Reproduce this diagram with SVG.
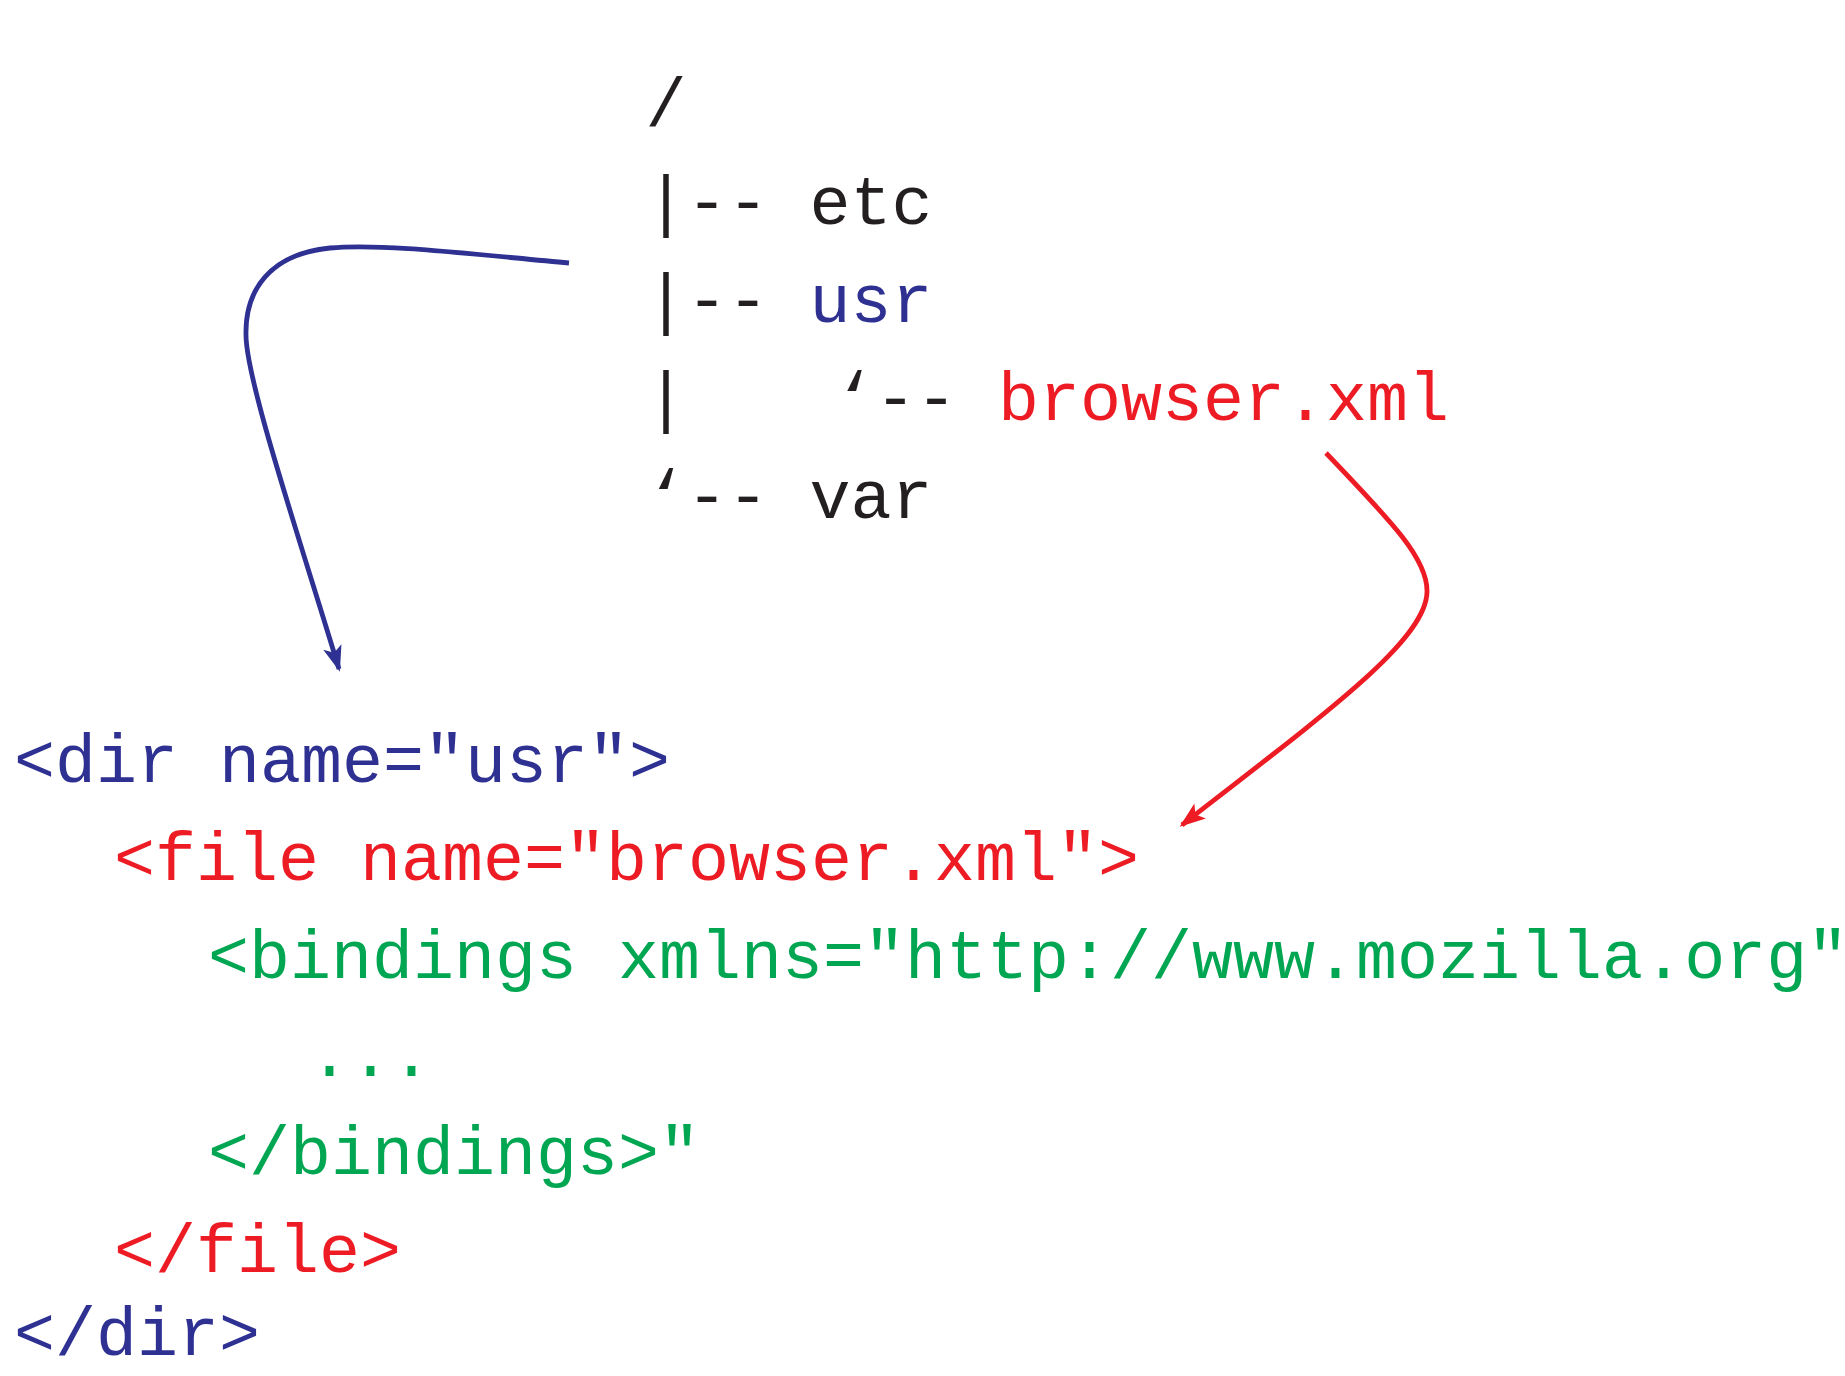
<svg xmlns="http://www.w3.org/2000/svg" width="1845" height="1376" viewBox="0 0 1845 1376">
<style>
text{font-family:"Liberation Mono","DejaVu Sans Mono",monospace;font-size:68.33px;fill:#231f20}
.blue{fill:#2e3192}
.red{fill:#ed1c24}
.green{fill:#00a651}
.conn{fill:none;stroke-width:4.8;stroke-linecap:butt}
</style>
<defs>
<marker id="ahBlue" markerUnits="userSpaceOnUse" markerWidth="32" markerHeight="26" refX="0" refY="0" viewBox="-26 -13 32 26" orient="auto" overflow="visible">
<path d="M3,0 L-23,-9.5 L-17,0 L-23,9.5 Z" fill="#2e3192"/>
</marker>
<marker id="ahRed" markerUnits="userSpaceOnUse" markerWidth="32" markerHeight="26" refX="0" refY="0" viewBox="-26 -13 32 26" orient="auto" overflow="visible">
<path d="M3,0 L-23,-9.5 L-17,0 L-23,9.5 Z" fill="#ed1c24"/>
</marker>
</defs>
<rect width="1845" height="1376" fill="#ffffff"/>
<g id="tree">
<text x="645.5" y="126">/</text>
<text x="645.5" y="224">|-- etc</text>
<text x="645.5" y="322">|-- <tspan class="blue">usr</tspan></text>
<text y="420"><tspan x="645.5">|</tspan><tspan x="834">‘--</tspan><tspan x="998" class="red">browser.xml</tspan></text>
<text x="645.5" y="518">‘-- var</text>
</g>
<g id="xml">
<text id="dir-open" x="14" y="782" class="blue">&lt;dir name="usr"&gt;</text>
<text id="file-open" x="114" y="880" class="red">&lt;file name="browser.xml"&gt;</text>
<text id="bindings-open" x="208" y="978" class="green">&lt;bindings xmlns="http://www.mozilla.org"</text>
<text id="ellipsis" x="309" y="1076" class="green">...</text>
<text id="bindings-close" x="208" y="1174" class="green">&lt;/bindings&gt;"</text>
<text id="file-close" x="114" y="1272" class="red">&lt;/file&gt;</text>
<text id="dir-close" x="14" y="1355" class="blue">&lt;/dir&gt;</text>
</g>
<g id="connectors">
<path class="conn" stroke="#2e3192" marker-end="url(#ahBlue)" d="M569,263 C470,254 380,243 330,248 C270,254 245,290 246,335 C246,380 300,540 339,669"/>
<path class="conn" stroke="#ed1c24" marker-end="url(#ahRed)" d="M1326,453 C1395,525 1428,560 1427,592 C1426,640 1330,710 1182,825"/>
</g>
</svg>
